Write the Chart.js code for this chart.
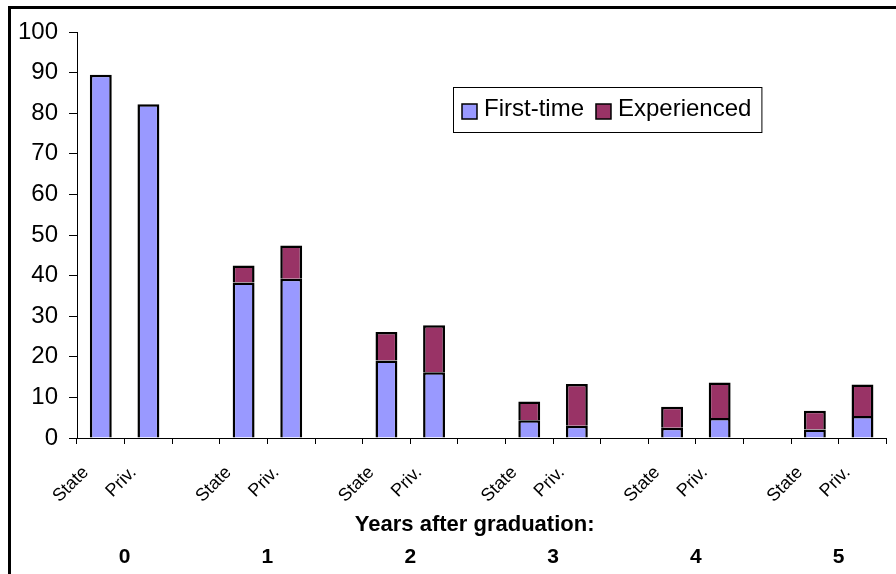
<!DOCTYPE html>
<html>
<head>
<meta charset="utf-8">
<script src="https://cdn.jsdelivr.net/npm/chart.js@4.4.1/dist/chart.umd.min.js"></script>
<style>
  html, body { margin: 0; padding: 0; background: #fff; overflow: hidden; }
  #wrap { width: 896px; height: 574px; position: relative; }
</style>
</head>
<body>
<div id="wrap"><canvas id="c"></canvas></div>
<script>
// Each year after graduation has a State and a Priv. bar, with an empty slot between years
const categories = ['State', 'Priv.', '', 'State', 'Priv.', '', 'State', 'Priv.', '',
                    'State', 'Priv.', '', 'State', 'Priv.', '', 'State', 'Priv.'];
const years = ['0', '1', '2', '3', '4', '5'];
const firstTime   = [89.5, 82.2, null, 38.3, 39.2, null, 19.1, 16.2, null, 4.4, 3.0, null, 2.5, 4.9, null, 2.1, 5.4];
const experienced = [0,    0,    null, 4.2,  8.2,  null, 7.0,  11.6, null, 4.6, 10.3, null, 5.2, 8.8, null, 4.6, 7.8];
const axisTitle = 'Years after graduation:';

const FONT = "'Liberation Sans', Arial, Helvetica, sans-serif";

// Outer frame and white background
const framePlugin = {
  id: 'frame',
  beforeDraw(chart) {
    const ctx = chart.ctx;
    ctx.save();
    ctx.fillStyle = '#fff';
    ctx.fillRect(0, 0, chart.width, chart.height);
    ctx.fillStyle = '#000';
    ctx.fillRect(8, 6, 3, chart.height);
    ctx.fillRect(8, 6, chart.width, 3);
    ctx.restore();
  }
};

// Axis title and year numbers under each State/Priv. pair
const yearsPlugin = {
  id: 'years',
  afterDraw(chart) {
    const ctx = chart.ctx;
    const x = chart.scales.x;
    const area = chart.chartArea;
    ctx.save();
    ctx.fillStyle = '#000';
    ctx.font = 'bold 22px ' + FONT;
    ctx.textAlign = 'center';
    ctx.textBaseline = 'middle';
    ctx.fillText(axisTitle, (area.left + area.right) / 2 - 7, area.bottom + 87);
    ctx.font = 'bold 21px ' + FONT;
    years.forEach((y, i) => {
      const cx = (x.getPixelForValue(3 * i) + x.getPixelForValue(3 * i + 1)) / 2;
      ctx.fillText(y, cx, area.bottom + 119);
    });
    ctx.restore();
  }
};

// Boxed legend drawn inside the plot area
const boxLegendPlugin = {
  id: 'boxLegend',
  afterDraw(chart) {
    const ctx = chart.ctx;
    const area = chart.chartArea;
    const left = area.left + 376, top = area.top + 55, h = 45;
    ctx.save();
    ctx.font = '24px ' + FONT;
    const sq = 15, padL = 9, gapT = 7, gapItem = 12, padR = 10;
    let w = padL;
    const items = chart.data.datasets.map(ds => ({ ds, tw: ctx.measureText(ds.label).width }));
    items.forEach((it, i) => { w += sq + gapT + it.tw + (i < items.length - 1 ? gapItem : padR); });
    ctx.fillStyle = '#fff';
    ctx.fillRect(left, top, w, h);
    ctx.strokeStyle = '#000';
    ctx.lineWidth = 1;
    ctx.strokeRect(left + 0.5, top + 0.5, w, h);
    let cx = left + padL;
    const cy = top + h / 2;
    items.forEach((it) => {
      ctx.fillStyle = it.ds.backgroundColor;
      ctx.fillRect(cx, cy - sq / 2 + 2, sq, sq);
      ctx.lineWidth = 1.5;
      ctx.strokeStyle = '#000';
      ctx.strokeRect(cx, cy - sq / 2 + 2, sq, sq);
      ctx.fillStyle = '#000';
      ctx.textAlign = 'left';
      ctx.textBaseline = 'middle';
      ctx.fillText(it.ds.label, cx + sq + gapT, cy);
      cx += sq + gapT + it.tw + gapItem;
    });
    ctx.restore();
  }
};

new Chart(document.getElementById('c'), {
  type: 'bar',
  data: {
    labels: categories,
    datasets: [
      {
        label: 'First-time',
        data: firstTime,
        backgroundColor: '#9999FF',
        borderColor: '#000',
        borderWidth: 2.5,
        barPercentage: 0.46,
        categoryPercentage: 1
      },
      {
        label: 'Experienced',
        data: experienced,
        backgroundColor: '#993366',
        borderColor: '#000',
        borderWidth: 2.5,
        barPercentage: 0.46,
        categoryPercentage: 1
      }
    ]
  },
  options: {
    responsive: true,
    maintainAspectRatio: false,
    animation: false,
    layout: { padding: { top: 32, right: 8, bottom: 0, left: 0 } },
    plugins: {
      legend: { display: false },
      tooltip: { enabled: false }
    },
    scales: {
      x: {
        stacked: true,
        offset: true,
        afterFit(scale) { scale.height = 136; },
        grid: {
          display: true,
          offset: true,
          drawOnChartArea: false,
          drawTicks: true,
          tickLength: 6,
          color: '#000',
          lineWidth: 1
        },
        border: { display: true, color: '#000', width: 1 },
        ticks: {
          autoSkip: false,
          minRotation: 45,
          maxRotation: 45,
          labelOffset: -15,
          padding: 18,
          color: '#000',
          font: { family: FONT, size: 18 }
        }
      },
      y: {
        stacked: true,
        min: 0,
        max: 100,
        afterFit(scale) { scale.width = 77; },
        grid: {
          display: true,
          drawOnChartArea: false,
          drawTicks: true,
          tickLength: 8,
          color: '#000',
          lineWidth: 1
        },
        border: { display: true, color: '#000', width: 1 },
        ticks: {
          stepSize: 10,
          padding: 11,
          color: '#000',
          font: { family: FONT, size: 24 }
        }
      }
    }
  },
  plugins: [framePlugin, yearsPlugin, boxLegendPlugin]
});
</script>
</body>
</html>
